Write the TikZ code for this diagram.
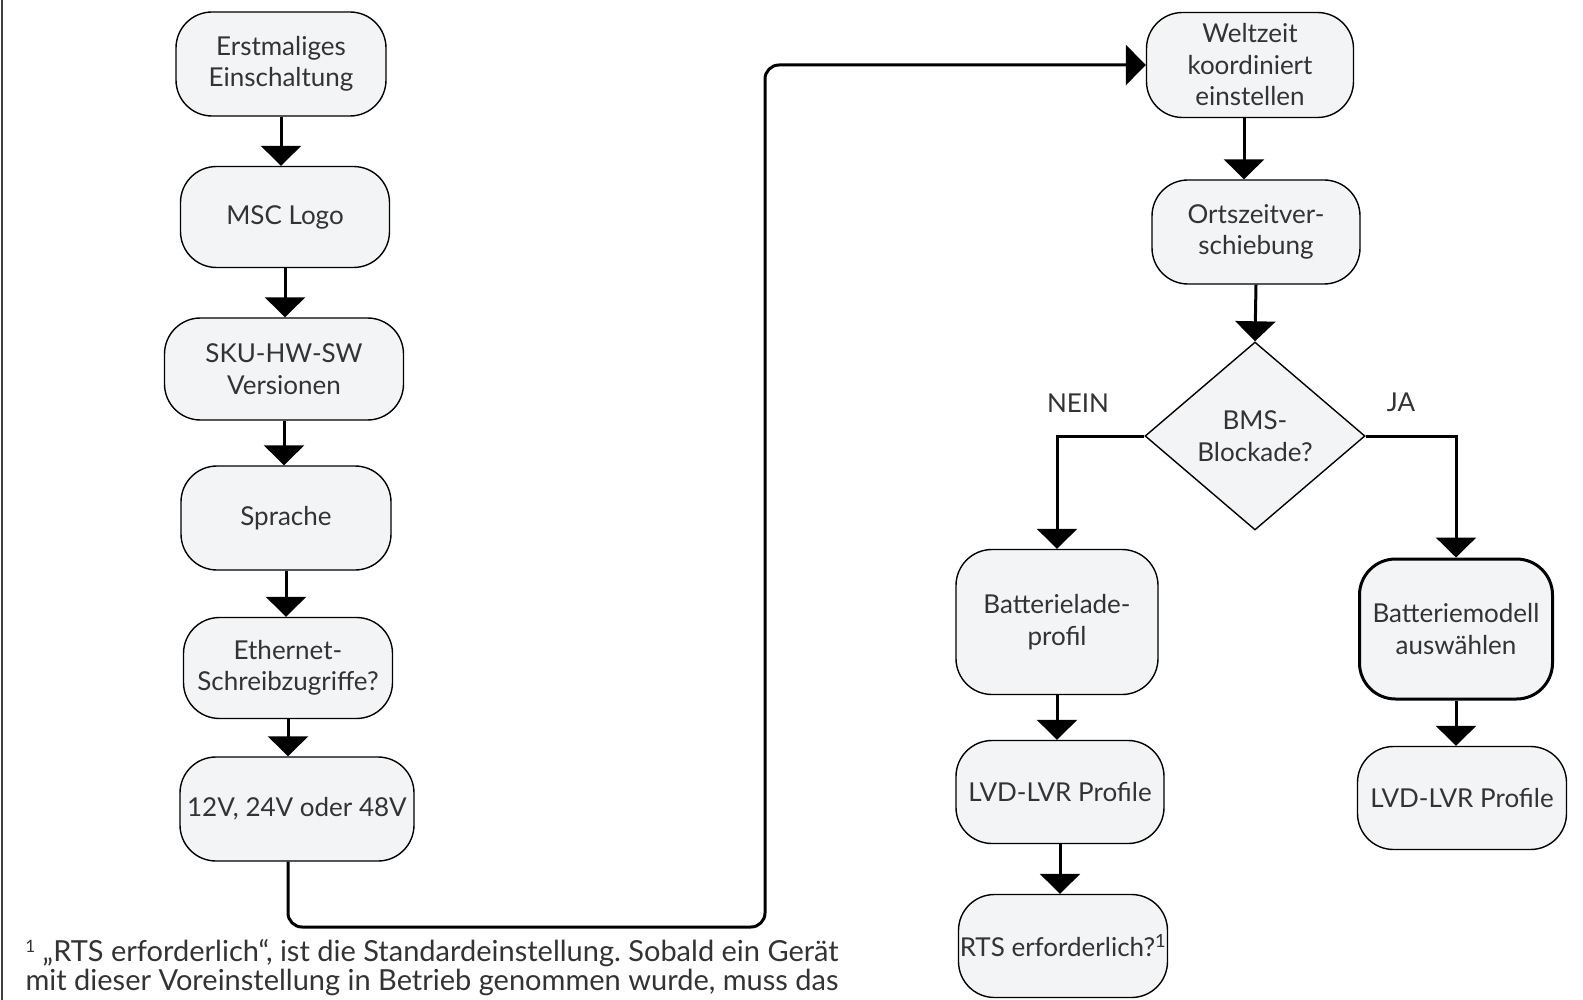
\documentclass[tikz,border=0pt]{standalone}
\usepackage{fontspec}
\setmainfont{Lato}
\usetikzlibrary{arrows.meta,shapes.geometric}
\definecolor{boxfill}{RGB}{243,244,246}
\definecolor{txt}{RGB}{51,51,51}
\frenchspacing
\begin{document}
\begin{tikzpicture}[x=1pt,y=-1pt,
  box/.style={draw=black, line width=1.4pt, fill=boxfill, rounded corners=36pt, align=center, inner sep=0pt, text=txt, font=\fontsize{26}{31.5}\selectfont},
  thickbox/.style={box, line width=3pt},
  dia/.style={diamond, draw=black, line width=1.4pt, fill=boxfill, align=center, inner sep=0pt, text=txt, font=\fontsize{26}{31.5}\selectfont},
  arr/.style={line width=3pt, -{Triangle[width=40pt,length=20pt]}},
  lbl/.style={text=txt, font=\fontsize{26}{31.5}\selectfont, inner sep=0pt}]
\useasboundingbox (0,0) rectangle (1583,1000);
\clip (0,0) rectangle (1583,1000);
\draw[line width=2pt, black!75] (1.5,0) -- (1.5,1000);
% left column
\node[box, minimum width=210pt, minimum height=104pt] (n1) at (281,64) {Erstmaliges\\Einschaltung};
\node[box, minimum width=209pt, minimum height=101pt] (n2) at (285,217) {MSC Logo};
\node[box, minimum width=239pt, minimum height=102pt] (n3) at (284,369) {SKU-HW-SW\\Versionen};
\node[box, minimum width=210pt, minimum height=104pt] (n4) at (286,518) {Sprache};
\node[box, minimum width=209pt, minimum height=101pt] (n5) at (288,668) {Ethernet-\\Schreibzugriffe?};
\node[box, minimum width=234pt, minimum height=104pt] (n6) at (297,809) {12V, 24V oder 48V};
% right part
\node[box, minimum width=207pt, minimum height=105pt] (n7) at (1250,65) {Weltzeit\\koordiniert\\einstellen};
\node[box, minimum width=208pt, minimum height=104pt] (n8) at (1256,232) {Ortszeitver-\\schiebung};
\node[dia, minimum width=220pt, minimum height=188pt] (d9) at (1255,436) {BMS-\\Blockade?};
\node[box, minimum width=202pt, minimum height=145pt] (n10) at (1057,622) {Batterielade-\\profil};
\node[box, minimum width=208pt, minimum height=103pt] (n11) at (1060,792) {LVD-LVR Profile};
\node[box, minimum width=209pt, minimum height=103pt] (n12) at (1063,946) {RTS erforderlich?\textsuperscript{1}};
\node[thickbox, minimum width=193pt, minimum height=140pt] (n13) at (1456,629) {Batteriemodell\\auswählen};
\node[box, minimum width=209pt, minimum height=103pt] (n14) at (1462,798) {LVD-LVR Profile};
\node[lbl] (nein) at (1078,403) {NEIN};
\node[lbl] (ja) at (1401,402) {JA};
% connectors
\draw[arr] (n1.south) -- (n1.south |- n2.north);
\draw[arr] (n2.south) -- (n2.south |- n3.north);
\draw[arr] (n3.south) -- (n3.south |- n4.north);
\draw[arr] (n4.south) -- (n4.south |- n5.north);
\draw[arr] (n5.south) -- (n5.south |- n6.north);
\draw[arr, rounded corners=14pt] ([xshift=-9pt]n6.south) |- (765,927) |- (n7.west);
\draw[arr] ([xshift=-6pt]n7.south) -- ([xshift=-6pt]n7.south |- n8.north);
\draw[arr] (n8.south) -- (d9.north);
\draw[arr] (d9.west) -| (n10.north);
\draw[arr] (d9.east) -| (n13.north);
\draw[arr] (n10.south) -- (n10.south |- n11.north);
\draw[arr] (n11.south) -- (n11.south |- n12.north);
\draw[arr] (n13.south) -- (n13.south |- n14.north);
% footnote
\node[anchor=north, align=center, inner sep=0pt, text=txt, font=\fontsize{29}{29}\selectfont] (fn) at (432,939)
  {{\fontsize{17}{17}\selectfont\raisebox{9pt}{1}} „RTS erforderlich“, ist die Standardeinstellung. Sobald ein Gerät\\mit dieser Voreinstellung in Betrieb genommen wurde, muss das};
\end{tikzpicture}
\end{document}
